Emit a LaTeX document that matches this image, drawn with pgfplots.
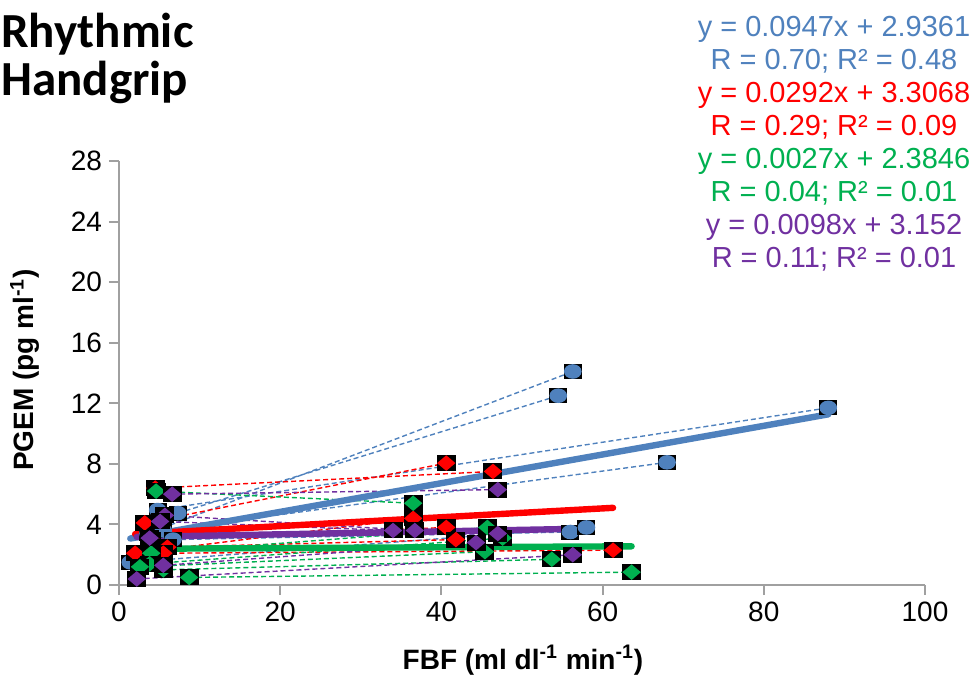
\documentclass[border=0pt]{standalone}
\usepackage{pgfplots}
\pgfplotsset{compat=1.18}
\usepackage{pgfplotstable}
\usepackage{fontspec}
\setmainfont{Liberation Sans}
\newfontfamily\titlefont{Carlito}

\definecolor{sblue}{HTML}{4F81BD}
\definecolor{sred}{HTML}{FF0000}
\definecolor{sgreen}{HTML}{00B050}
\definecolor{spurple}{HTML}{7030A0}
\definecolor{axgray}{HTML}{A0A0A0}

% markers: coloured shape on a black box
\pgfdeclareplotmark{boxcircle}{%
  \pgfpathrectangle{\pgfqpoint{-4.5pt}{-3.75pt}}{\pgfqpoint{9pt}{7.5pt}}%
  \pgfsetfillcolor{black}\pgfusepathqfill
  \pgfpathellipse{\pgfpointorigin}{\pgfqpoint{4.4pt}{0pt}}{\pgfqpoint{0pt}{3.65pt}}%
  \pgfsetfillcolor{sblue}\pgfusepathqfill}
\newcommand\boxdiamond[2]{%
  \pgfdeclareplotmark{#1}{%
    \pgfpathrectangle{\pgfqpoint{-4.75pt}{-4pt}}{\pgfqpoint{9.5pt}{8pt}}%
    \pgfsetfillcolor{black}\pgfusepathqfill
    \pgfpathmoveto{\pgfqpoint{-4.6pt}{0pt}}%
    \pgfpathlineto{\pgfqpoint{0pt}{3.9pt}}%
    \pgfpathlineto{\pgfqpoint{4.6pt}{0pt}}%
    \pgfpathlineto{\pgfqpoint{0pt}{-3.9pt}}%
    \pgfpathclose
    \pgfsetfillcolor{#2}\pgfusepathqfill}}
\boxdiamond{reddiamond}{sred}
\boxdiamond{greendiamond}{sgreen}
\boxdiamond{purplediamond}{spurple}

% each subject: rest point, exercise point, then a nan row to break the line
\pgfplotstableread{
x y
4.8 4.95
88.0 11.7
nan nan
3.6 3.4
56.3 14.1
nan nan
7.3 4.75
54.5 12.5
nan nan
5.5 3.6
68.0 8.1
nan nan
6.7 3.0
56.0 3.5
nan nan
1.4 1.5
58.0 3.8
}\bluedata
\pgfplotstableread{
x y
4.5 6.4
46.4 7.5
nan nan
3.2 4.1
40.6 8.05
nan nan
2.0 2.1
36.5 4.4
nan nan
4.0 3.0
40.6 3.8
nan nan
6.0 2.5
41.8 3.0
nan nan
5.5 2.1
61.3 2.3
}\reddata
\pgfplotstableread{
x y
4.6 6.2
36.5 5.4
nan nan
4.0 2.1
45.7 3.8
nan nan
3.8 1.4
47.6 3.1
nan nan
2.6 1.2
45.4 2.2
nan nan
5.5 1.0
53.7 1.7
nan nan
8.7 0.5
63.6 0.85
}\greendata
\pgfplotstableread{
x y
6.6 6.0
47.0 6.3
nan nan
5.7 4.6
36.7 3.6
nan nan
5.1 4.2
34.0 3.6
nan nan
3.8 3.1
47.0 3.4
nan nan
5.5 1.3
44.3 2.8
nan nan
2.2 0.4
56.3 2.0
}\purpledata

\begin{document}
\begin{tikzpicture}
\useasboundingbox (-59.5pt,-46pt) rectangle (428.5pt,292.5pt);
\begin{axis}[
  at={(0,0)}, anchor=south west,
  scale only axis, width=403pt, height=212pt,
  xmin=0, xmax=100, ymin=0, ymax=28,
  xtick={0,20,...,100}, ytick={0,4,...,28},
  axis x line=bottom, axis y line=left,
  axis line style={-, draw=axgray, line width=1pt},
  tick style={draw=axgray, line width=1pt},
  tick align=outside, major tick length=5pt,
  ticklabel style={font=\fontsize{14}{16}\selectfont},
  /pgf/number format/assume math mode=true,
  clip=false,
  pair/.style={line width=0.7pt, dash pattern=on 2.5pt off 1.5pt, unbounded coords=jump, forget plot},
  trend/.style={line width=3.2pt, line cap=round, forget plot},
]
% subject pairs
\addplot[pair, sblue] table {\bluedata};
\addplot[pair, sred] table {\reddata};
\addplot[pair, sgreen] table {\greendata};
\addplot[pair, spurple] table {\purpledata};
% individual values
\addplot[only marks, mark=boxcircle, unbounded coords=discard] table {\bluedata};
\addplot[only marks, mark=reddiamond, unbounded coords=discard] table {\reddata};
\addplot[only marks, mark=greendiamond, unbounded coords=discard] table {\greendata};
\addplot[only marks, mark=purplediamond, unbounded coords=discard] table {\purpledata};
% linear fits over each series' range
\addplot[trend, sblue] coordinates {(1.4,3.069) (88.0,11.270)};
\addplot[trend, sred] coordinates {(2.0,3.365) (61.3,5.097)};
\addplot[trend, sgreen] coordinates {(2.6,2.392) (63.6,2.556)};
\addplot[trend, spurple] coordinates {(2.2,3.174) (56.3,3.704)};
\end{axis}
% axis titles
\node[font=\fontsize{14}{16}\selectfont\bfseries] at (202pt,-37.5pt) {FBF (ml dl\textsuperscript{-1} min\textsuperscript{-1})};
\node[font=\fontsize{14}{16}\selectfont\bfseries, rotate=90] at (-47pt,107.5pt) {PGEM (pg ml\textsuperscript{-1})};
% panel title
\node[font=\titlefont\bfseries\fontsize{24.5}{28}\selectfont, anchor=base west, inner sep=0pt] at (-59pt,269pt) {Rhythmic};
\node[font=\titlefont\bfseries\fontsize{24.5}{28}\selectfont, anchor=base west, inner sep=0pt] at (-59pt,245pt) {Handgrip};
% regression equations
\begin{scope}[every node/.style={font=\fontsize{14.5}{17}\selectfont, anchor=base, inner sep=0pt}]
\node[text=sblue]   at (357.5pt,274.5pt) {y = 0.0947x + 2.9361};
\node[text=sblue]   at (357.5pt,258.0pt) {R = 0.70; R² = 0.48};
\node[text=sred]    at (357.5pt,241.5pt) {y = 0.0292x + 3.3068};
\node[text=sred]    at (357.5pt,225.0pt) {R = 0.29; R² = 0.09};
\node[text=sgreen]  at (357.5pt,208.5pt) {y = 0.0027x + 2.3846};
\node[text=sgreen]  at (357.5pt,192.0pt) {R = 0.04; R² = 0.01};
\node[text=spurple] at (357.5pt,175.5pt) {y = 0.0098x + 3.152};
\node[text=spurple] at (357.5pt,159.0pt) {R = 0.11; R² = 0.01};
\end{scope}
\end{tikzpicture}
\end{document}
